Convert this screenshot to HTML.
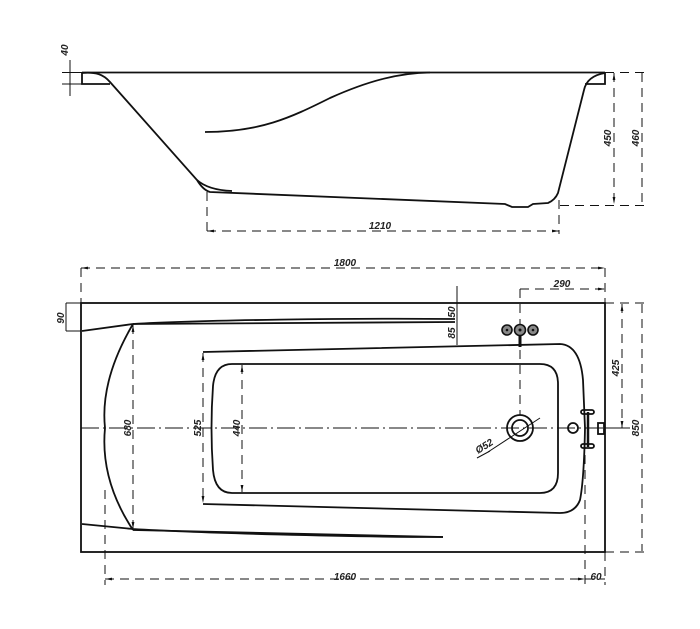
<!DOCTYPE html>
<html><head><meta charset="utf-8"><style>
html,body{margin:0;padding:0;background:#fff;}
svg{display:block;}
text{font-family:"Liberation Sans",sans-serif;font-size:10px;font-style:italic;font-weight:bold;fill:#222;}
</style></head><body>
<svg width="700" height="629" viewBox="0 0 700 629" xmlns="http://www.w3.org/2000/svg">
<defs>
<marker id="a" viewBox="0 0 10 10" refX="10" refY="5" markerWidth="7" markerHeight="7" orient="auto-start-reverse"><path d="M0,3 L10,5 L0,7 z" fill="#111"/></marker>
</defs>
<g fill="none" stroke="#111" stroke-width="1.8">
<!-- SIDE VIEW -->
<line x1="82" y1="72.5" x2="605" y2="72.5"/>
<path d="M82,72.5 L82,84 L110,84"/>
<path d="M82,73 C96,72 103,74 110,82 L197,180 Q203,190 210,192 L505,204 L512,207 L528,207 L533,204 L548,203 Q555,200 558,193 L584,90 Q587,76 605,73 L605,84 L585,84"/>
<path d="M197,180 Q208,190 232,191"/>
<path d="M205,132 C260,132 290,118 330,98 C370,80 400,73 430,72.5"/>
</g>
<g fill="none" stroke="#111" stroke-width="1">
<line x1="62" y1="72.5" x2="82" y2="72.5"/>
<line x1="62" y1="84" x2="82" y2="84"/>
<line x1="70" y1="60" x2="70" y2="96"/>
<g stroke-dasharray="9,6">
<line x1="207" y1="192" x2="207" y2="234"/>
<line x1="559" y1="200" x2="559" y2="234"/>
<line x1="207" y1="231" x2="559" y2="231" marker-start="url(#a)" marker-end="url(#a)"/>
<line x1="605" y1="72.5" x2="646" y2="72.5"/>
<line x1="560" y1="205.5" x2="646" y2="205.5"/>
<line x1="614" y1="73" x2="614" y2="204" marker-start="url(#a)" marker-end="url(#a)"/>
<line x1="642" y1="73" x2="642" y2="205"/>
<line x1="81" y1="268" x2="605" y2="268" marker-start="url(#a)" marker-end="url(#a)"/>
<line x1="81" y1="268" x2="81" y2="303"/>
<line x1="605" y1="268" x2="605" y2="303"/>
<line x1="520" y1="289" x2="605" y2="289" marker-end="url(#a)"/>
<line x1="520" y1="289" x2="520" y2="330"/>
<line x1="520" y1="350" x2="520" y2="415"/>
<line x1="105" y1="490" x2="105" y2="585"/>
<line x1="585" y1="440" x2="585" y2="585"/>
<line x1="105" y1="579" x2="585" y2="579" marker-start="url(#a)" marker-end="url(#a)"/>
<line x1="585" y1="579" x2="605" y2="579"/>
<line x1="605" y1="552" x2="605" y2="585"/>
<line x1="605" y1="303" x2="645" y2="303"/>
<line x1="605" y1="552" x2="645" y2="552"/>
<line x1="622" y1="304" x2="622" y2="428" marker-start="url(#a)" marker-end="url(#a)"/>
<line x1="642" y1="304" x2="642" y2="551"/>
<line x1="133" y1="325" x2="133" y2="529" marker-start="url(#a)" marker-end="url(#a)"/>
<line x1="203" y1="353" x2="203" y2="503" marker-start="url(#a)" marker-end="url(#a)"/>
<line x1="242" y1="365" x2="242" y2="492" marker-start="url(#a)" marker-end="url(#a)"/>
</g>
<line x1="605" y1="428" x2="625" y2="428"/>
<line x1="66" y1="303" x2="81" y2="303"/>
<line x1="66" y1="331" x2="81" y2="331"/>
<line x1="66" y1="303" x2="66" y2="331"/>
<line x1="457" y1="286" x2="457" y2="345"/>
<line x1="81" y1="428" x2="630" y2="428" stroke-dasharray="18,4,2,4"/>
<line x1="488" y1="452" x2="540" y2="418"/>
<line x1="477" y1="458" x2="490" y2="451"/>
</g>
<g fill="none" stroke="#111" stroke-width="1.8">
<rect x="81" y="303" width="524" height="249"/>
<path d="M82,331 L133,324 C200,320 350,318 455,319"/>
<path d="M133,324 L455,322"/>
<path d="M82,524 L133,529 C200,533 350,537 443,537"/>
<path d="M133,530 L443,537"/>
<path d="M133,324 Q100,380 105,428 Q100,480 133,530"/>
<path d="M203,352 L560,344 Q580,345 583,380 L585,428 Q584,480 580,500 Q575,513 560,513 L203,504"/>
<path d="M232,364 L540,364 Q558,364 558,384 L558,473 Q558,493 540,493 L232,493 Q215,493 213,470 Q210,428 213,386 Q215,364 232,364 Z"/>
<circle cx="520" cy="428" r="13"/>
<circle cx="520" cy="428" r="8"/>
<line x1="520" y1="334" x2="520" y2="347" stroke-width="3"/>
<circle cx="573" cy="428" r="5"/>
<line x1="588" y1="412" x2="588" y2="447" stroke-width="2.5"/>
<rect x="581" y="410" width="13" height="4" rx="2"/>
<rect x="581" y="444" width="13" height="4" rx="2"/>
<rect x="598" y="423" width="6" height="11"/>
</g>
<g stroke="#111" stroke-width="1.6" fill="#888">
<circle cx="507" cy="330" r="5"/>
<circle cx="520" cy="330" r="5.5"/>
<circle cx="533" cy="330" r="5"/>
</g>
<g fill="#111" stroke="none">
<circle cx="507" cy="330" r="1.3"/><circle cx="533" cy="330" r="1.3"/><circle cx="520" cy="330" r="1.5"/>
</g>
<text x="380" y="229" text-anchor="middle">1210</text>
<text x="345" y="266" text-anchor="middle">1800</text>
<text x="562" y="287" text-anchor="middle">290</text>
<text x="345" y="580" text-anchor="middle">1660</text>
<text x="596" y="580" text-anchor="middle">60</text>
<text transform="translate(68,50) rotate(-90)" text-anchor="middle">40</text>
<text transform="translate(611,138) rotate(-90)" text-anchor="middle">450</text>
<text transform="translate(639,138) rotate(-90)" text-anchor="middle">460</text>
<text transform="translate(64,318) rotate(-90)" text-anchor="middle">90</text>
<text transform="translate(455,312) rotate(-90)" text-anchor="middle">50</text>
<text transform="translate(455,333) rotate(-90)" text-anchor="middle">85</text>
<text transform="translate(619,368) rotate(-90)" text-anchor="middle">425</text>
<text transform="translate(639,428) rotate(-90)" text-anchor="middle">850</text>
<text transform="translate(131,428) rotate(-90)" text-anchor="middle">680</text>
<text transform="translate(201,428) rotate(-90)" text-anchor="middle">525</text>
<text transform="translate(240,428) rotate(-90)" text-anchor="middle">440</text>
<text transform="translate(486,449) rotate(-32)" text-anchor="middle">Ø52</text>
</svg>
</body></html>
